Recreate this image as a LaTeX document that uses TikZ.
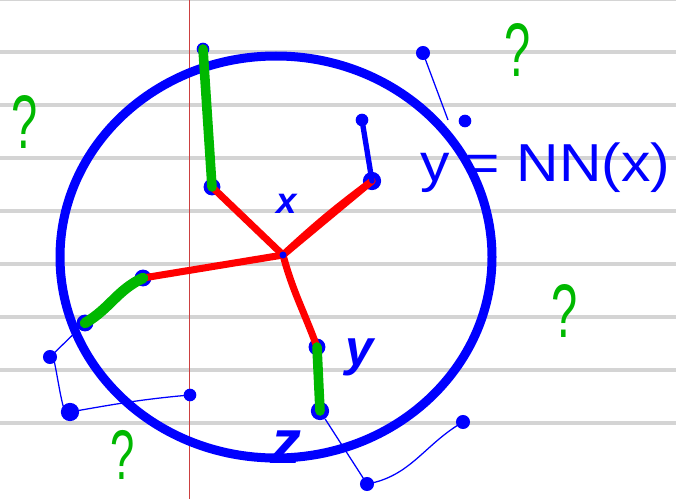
\documentclass[tikz,border=0pt]{standalone}
\usepackage{fontspec}
\newfontfamily\handfont{Liberation Sans}
\usetikzlibrary{positioning}
\definecolor{penblue}{rgb}{0,0,1}
\definecolor{penred}{rgb}{1,0,0}
\definecolor{pengreen}{rgb}{0,0.72,0}
\definecolor{rulegray}{rgb}{0.83,0.83,0.83}
\definecolor{marginred}{rgb}{0.8,0.25,0.25}

\tikzset{
  ruling/.style={rulegray, line width=2.4pt},
  margin/.style={marginred, line width=1pt},
  edge/.style={penred, line width=5pt, line cap=round},
  stub/.style={pengreen, line width=6.8pt, line cap=round},
  link/.style={penblue, line width=3.8pt, line cap=round},
  wire/.style={penblue, line width=0.9pt},
  blob/.style={circle, fill=penblue, inner sep=0pt, minimum size=12pt},
  quest/.style={text=pengreen, font=\handfont\fontsize{54}{54}\selectfont, xscale=0.62, inner sep=0pt},
  hand/.style={text=penblue, inner sep=0pt},
}

\begin{document}
\begin{tikzpicture}[x=0.025cm, y=-0.025cm]
\useasboundingbox (0,0) rectangle (676,499);
\fill[white] (0,0) rectangle (676,499);

% the ruled paper
\draw[rulegray, line width=1pt] (0,0.5) -- (676,0.5);
\foreach \row in {0,...,7}
  \draw[ruling] (0,52+53*\row) -- (676,52+53*\row);
\draw[margin] (189.5,0) -- (189.5,499);

% the big blue circle
\draw[penblue, line width=6.4pt] (276,257) ellipse (216 and 201);

% points of the sketch
\coordinate (hub) at (283,255);
\node[blob] (ul) at (212,187) {};
\node[blob, minimum size=9pt] (ultop) at (203,49) {};
\node[blob, minimum size=13pt] (ur) at (372,181) {};
\node[blob, minimum size=9pt] (urtop) at (362,120) {};
\node[blob] (le) at (143,278) {};
\node[blob] (leout) at (85,323) {};
\node[blob, minimum size=10pt] (w1) at (50,357) {};
\node[blob, minimum size=13pt] (w2) at (70,412) {};
\node[blob, minimum size=9pt] (w3) at (190,395) {};
\node[blob] (lo) at (317,347) {};
\node[blob, minimum size=13pt] (loout) at (320,411) {};
\node[blob, minimum size=10pt] (v1) at (367,484) {};
\node[blob, minimum size=10pt] (v2) at (463,422) {};
\node[blob, minimum size=10pt] (t1) at (423,53) {};
\coordinate (t2) at (448,120);
\node[blob, minimum size=9pt] (t3) at (465,121) {};

% red edges out of the hub
\draw[edge] (hub) -- (ul.center);
\draw[edge] (hub) -- (ur.center);
\draw[edge] (hub) to[bend left=3] (ur.center);
\draw[edge] (hub) -- (le.center);
\draw[edge] (hub) to[out=-75,in=110] (lo.center);

% green and blue stubs
\draw[stub] (ultop.center) -- (ul.center);
\draw[stub, line width=7.5pt] (le.center) to[out=205,in=30] (leout.center);
\draw[stub] (lo.center) -- (loout.center);
\draw[link] (ur.center) -- (urtop.center);

% thin wires
\draw[wire] (leout) -- (w1.center) to[out=80,in=-110] (w2.center)
  to[out=10,in=185] (w3.center);
\draw[wire] (loout) -- (v1.center) to[out=10,in=210] (v2.center);
\draw[wire] (t1.center) -- (t2);
\node[blob, minimum size=5pt] at (hub) {};

% labels
\node[hand, font=\handfont\bfseries\itshape\fontsize{26}{26}\selectfont] (xlab) at (287,204) {x};
\node[hand, font=\handfont\bfseries\itshape\fontsize{36}{36}\selectfont] (ylab) at (360,357) {y};
\node[hand, font=\handfont\bfseries\itshape\fontsize{44}{44}\selectfont] (zlab) at (286,447) {z};
\node[hand, font=\handfont\fontsize{38}{38}\selectfont, xscale=1.1, anchor=west] (nnlab) at (420,168) {y = NN(x)};

\node[quest] (q1) at (518,50) {?};
\node[quest] (q2) at (25,122) {?};
\node[quest] (q3) at (565,311) {?};
\node[quest, font=\handfont\fontsize{50}{50}\selectfont] (q4) at (123,455) {?};

\end{tikzpicture}
\end{document}
